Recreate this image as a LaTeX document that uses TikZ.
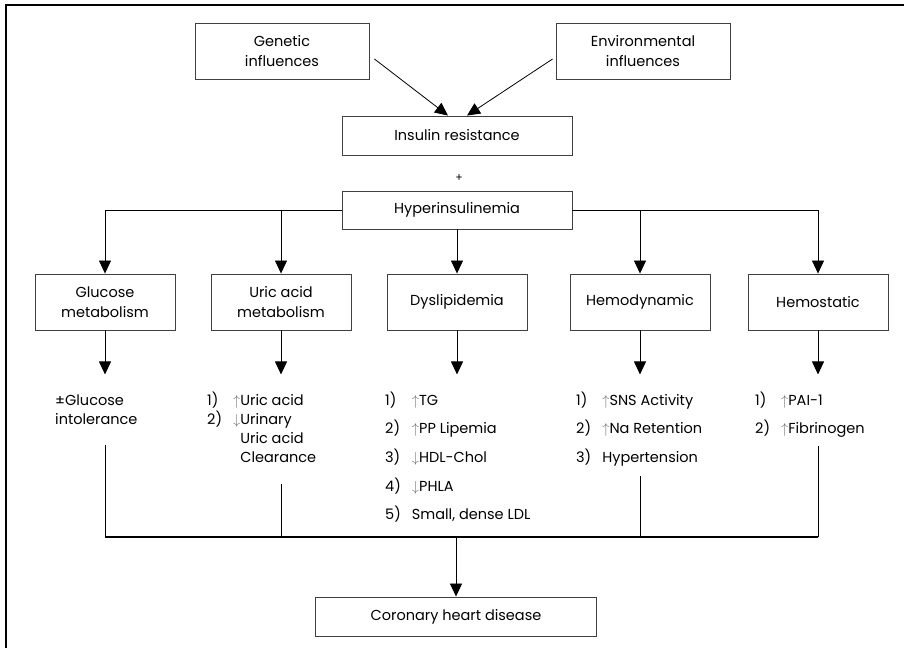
\documentclass[tikz,border=0pt]{standalone}
\usepackage{fontspec}
\setmainfont{Poppins}
\usetikzlibrary{arrows.meta}

\newcommand{\incr}{{\color{black!55}$\uparrow$}}
\newcommand{\decr}{{\color{black!55}$\downarrow$}}

\tikzset{
  box/.style={draw=black!75, line width=0.9pt, align=center, inner sep=2pt,
    font=\fontsize{14.5}{20}\selectfont},
  catbox/.style={box, minimum width=140pt, minimum height=56pt},
  arr/.style={-{Triangle[width=12pt,length=13pt]}, line width=0.8pt},
  lnk/.style={line width=0.8pt},
  lst/.style={anchor=base west, inner sep=0pt, font=\fontsize{14.5}{19}\selectfont}
}

\begin{document}
\begin{tikzpicture}[x=1pt,y=-1pt]
\useasboundingbox (0,0) rectangle (904,648);
\draw[line width=1.6pt] (6,648) -- (6,5) -- (904,5);

% causes
\node[box, minimum width=174pt, minimum height=56pt] (gen) at (282,51) {Genetic\\influences};
\node[box, minimum width=174pt, minimum height=56pt] (env) at (643,51) {Environmental\\influences};
\node[box, minimum width=230pt, minimum height=39pt] (ins) at (457,135.5) {Insulin resistance};
\node[font=\fontsize{11}{12}\selectfont] (plus) at (459,178) {+};
\node[box, minimum width=230pt, minimum height=38pt] (hyp) at (457,210) {Hyperinsulinemia};

\draw[arr] ([xshift=5pt,yshift=-8pt]gen.east) -- ([xshift=-9pt]ins.north);
\draw[arr] ([xshift=-3pt,yshift=-8pt]env.west) -- ([xshift=10pt]ins.north);

% categories
\node[catbox] (glu) at (105,302) {Glucose\\metabolism};
\node[catbox] (uri) at (281,302) {Uric acid\\metabolism};
\node[catbox] (dys) at (457,302) {Dyslipidemia};
\node[catbox] (hdy) at (640,302) {Hemodynamic};
\node[catbox] (hst) at (818,302) {Hemostatic};

\draw[arr] (hyp.west) -| (glu.north);
\draw[arr] (hyp.west -| uri.north) -- (uri.north);
\draw[arr] (hyp.south) -- (dys.north);
\draw[arr] (hyp.east) -| (hst.north);
\draw[arr] (hyp.east -| hdy.north) -- (hdy.north);

% effects
\node[lst] (glul) at (55,405) {\begin{tabular}[t]{@{}l@{}}±Glucose\\intolerance\end{tabular}};
\node[lst] (uril) at (207,405) {\begin{tabular}[t]{@{}l@{\hspace{11pt}}l@{}}
1) & \incr Uric acid\\
2) & \decr Urinary\\
   & \phantom{\decr}Uric acid\\
   & \phantom{\decr}Clearance\end{tabular}};
\node[lst] (dysl) at (385,405) {\begin{tabular}[t]{@{}l@{\hspace{11pt}}l@{}}
1) & \incr TG\\[9.5pt]
2) & \incr PP Lipemia\\[9.5pt]
3) & \decr HDL-Chol\\[9.5pt]
4) & \decr PHLA\\[9.5pt]
5) & Small, dense LDL\end{tabular}};
\node[lst] (hdyl) at (576,405) {\begin{tabular}[t]{@{}l@{\hspace{11pt}}l@{}}
1) & \incr SNS Activity\\[9.5pt]
2) & \incr Na Retention\\[9.5pt]
3) & Hypertension\end{tabular}};
\node[lst] (hstl) at (755,405) {\begin{tabular}[t]{@{}l@{\hspace{11pt}}l@{}}
1) & \incr PAI-1\\[9.5pt]
2) & \incr Fibrinogen\end{tabular}};

\foreach \n in {glu,uri,dys,hdy,hst}
  \draw[arr] (\n.south) -- ([yshift=-44pt]\n.south);

% outcome
\coordinate (glu-out) at (105,445);
\coordinate (uri-out) at (281,484);
\coordinate (hdy-out) at (640,476);
\coordinate (hst-out) at (818,446);
\coordinate (bus-l) at (105,537);
\coordinate (bus-r) at (818,537);
\node[box, minimum width=281pt, minimum height=39pt] (chd) at (456,616.5) {Coronary heart disease};

\draw[lnk] (glu-out) -- (bus-l);
\draw[lnk] (uri-out) -- (uri-out |- bus-l);
\draw[lnk] (hdy-out) -- (hdy-out |- bus-l);
\draw[lnk] (hst-out) -- (bus-r);
\draw[line width=1.2pt] (bus-l) -- (bus-r);
\draw[arr] (bus-l -| chd.north) -- (chd.north);
\end{tikzpicture}
\end{document}
